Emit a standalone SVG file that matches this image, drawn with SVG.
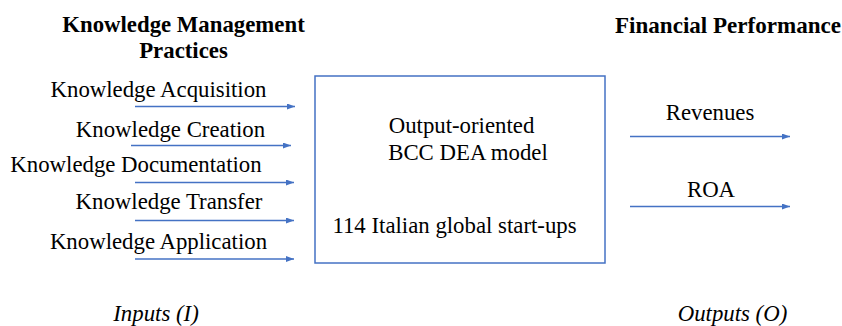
<svg xmlns="http://www.w3.org/2000/svg" width="842" height="326" viewBox="0 0 842 326">
<style>
text{font-family:"Liberation Serif","Times New Roman",serif;font-size:22.8px;fill:#000}
.b{font-weight:bold}
.i{font-style:italic}
.c{text-anchor:middle}
.arr{stroke:#4472C4;stroke-width:1.5;fill:none;marker-end:url(#ah)}
</style>
<defs>
<marker id="ah" viewBox="0 0 8 6" refX="8" refY="3" markerWidth="8" markerHeight="6" markerUnits="userSpaceOnUse" orient="auto">
<path d="M0,0 L8,3 L0,6 Z" fill="#4472C4"/>
</marker>
</defs>
<rect width="842" height="326" fill="#fff"/>
<g id="kmp">
<text class="b c" x="183.5" y="32">Knowledge Management</text>
<text class="b c" x="183.5" y="58">Practices</text>
</g>
<g id="ka"><text class="c" x="158.5" y="97">Knowledge Acquisition</text></g>
<g id="kc"><text class="c" x="170.5" y="137">Knowledge Creation</text></g>
<g id="kd"><text class="c" x="136" y="172">Knowledge Documentation</text></g>
<g id="kt"><text class="c" x="169" y="209">Knowledge Transfer</text></g>
<g id="kap"><text class="c" x="158.5" y="249">Knowledge Application</text></g>
<g id="inputs"><text class="i c" x="156" y="321">Inputs (I)</text></g>
<g id="model">
<rect x="315" y="76" width="290" height="187" fill="none" stroke="#4472C4" stroke-width="1.5"/>
<text class="c" x="461.5" y="133">Output-oriented</text>
<text class="c" x="468" y="160">BCC DEA model</text>
<text class="c" x="454.5" y="233">114 Italian global start-ups</text>
</g>
<g id="fp"><text class="b" x="615" y="33" textLength="226" lengthAdjust="spacingAndGlyphs">Financial Performance</text></g>
<g id="rev"><text class="c" x="710" y="120">Revenues</text></g>
<g id="roa"><text class="c" x="711" y="197">ROA</text></g>
<g id="outputs"><text class="i c" x="732.5" y="321">Outputs (O)</text></g>
<g id="connectors">
<line class="arr" x1="135" y1="106.5" x2="295" y2="106.5"/>
<line class="arr" x1="131" y1="145.5" x2="291" y2="145.5"/>
<line class="arr" x1="135" y1="182.5" x2="294" y2="182.5"/>
<line class="arr" x1="135" y1="220.5" x2="294" y2="220.5"/>
<line class="arr" x1="135" y1="259" x2="294" y2="259"/>
<line class="arr" x1="630" y1="136.5" x2="790" y2="136.5"/>
<line class="arr" x1="630" y1="206.5" x2="790" y2="206.5"/>
</g>
</svg>
